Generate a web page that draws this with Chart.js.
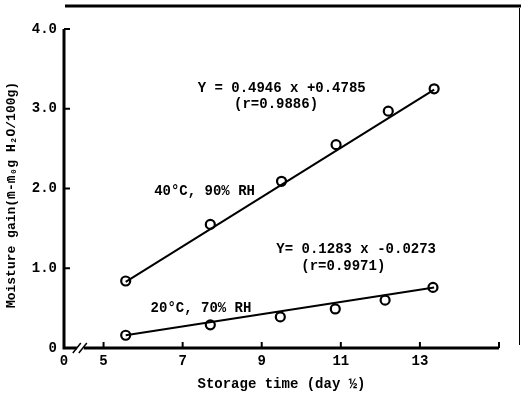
<!DOCTYPE html>
<html><head><meta charset="utf-8">
<script src="https://cdn.jsdelivr.net/npm/chart.js@4.4.0/dist/chart.umd.min.js"></script>
<style>html,body{margin:0;padding:0;background:#fff}#wrap{width:521px;height:397px}</style>
</head><body><div id="wrap"><canvas id="c" width="521" height="397"></canvas></div>
<script>
// Data
const x40 = [5.56, 7.70, 9.50, 10.88, 12.20, 13.36];
const y40 = [0.84, 1.55, 2.09, 2.55, 2.97, 3.25];
const x20 = [5.56, 7.70, 9.47, 10.86, 12.12, 13.33];
const y20 = [0.16, 0.29, 0.39, 0.49, 0.60, 0.76];
const fitX = [5.56, 13.36];
const fit40 = [0.83, 3.24];
const fit20 = [0.16, 0.76];
const xTicks = [4, 5, 7, 9, 11, 13, 15];
const xTickLabels = {4: '0', 5: '5', 7: '7', 9: '9', 11: '11', 13: '13', 15: ''};
const yTicks = [0, 1, 2, 3, 4];
const yTickLabels = {0: '0', 1: '1.0', 2: '2.0', 3: '3.0', 4: '4.0'};
const yTitle = 'Moisture gain(m̄-m̄₀g H₂O/100g)';
const notes = [
  {x: 7.38, y: 3.25, text: 'Y = 0.4946 x +0.4785'},
  {x: 8.30, y: 3.05, text: '(r=0.9886)'},
  {x: 6.28, y: 1.96, text: '40°C, 90% RH'},
  {x: 9.37, y: 1.24, text: 'Y= 0.1283 x -0.0273'},
  {x: 10.0, y: 1.02, text: '(r=0.9971)'},
  {x: 6.19, y: 0.50, text: '20°C, 70% RH'}
];
const pts = (xs, ys) => xs.map((v, i) => ({x: v, y: ys[i]}));
const FONT = '"Liberation Mono", "DejaVu Sans Mono", monospace';

const deco = {
  id: 'deco',
  afterDraw(chart) {
    const ctx = chart.ctx, xs = chart.scales.x, ys = chart.scales.y;
    const a = chart.chartArea;
    ctx.save();
    ctx.strokeStyle = '#000';
    // frame lines from the scan
    ctx.lineWidth = 3;
    ctx.beginPath(); ctx.moveTo(65, 6); ctx.lineTo(521, 6); ctx.stroke();
    ctx.lineWidth = 1;
    ctx.beginPath(); ctx.moveTo(519.5, 8); ctx.lineTo(519.5, 345); ctx.stroke();
    // axes
    ctx.lineWidth = 3;
    ctx.beginPath();
    ctx.moveTo(a.left, ys.getPixelForValue(4));
    ctx.lineTo(a.left, ys.getPixelForValue(0));
    ctx.lineTo(xs.getPixelForValue(15), ys.getPixelForValue(0));
    ctx.stroke();
    // x ticks (inside, upward)
    ctx.lineWidth = 2;
    const y0 = ys.getPixelForValue(0);
    [5, 7, 9, 11, 13, 15].forEach(v => {
      const px = xs.getPixelForValue(v);
      ctx.beginPath(); ctx.moveTo(px, y0); ctx.lineTo(px, y0 - 6); ctx.stroke();
    });
    // y ticks (inside, right)
    [1, 2, 3, 4].forEach(v => {
      const py = ys.getPixelForValue(v);
      ctx.beginPath(); ctx.moveTo(a.left, py); ctx.lineTo(a.left + 6, py); ctx.stroke();
    });
    // axis break
    const bx = xs.getPixelForValue(4.4);
    ctx.fillStyle = '#fff';
    ctx.fillRect(bx - 3, y0 - 3, 7, 6);
    ctx.lineWidth = 1.5;
    [-3, 3].forEach(d => {
      ctx.beginPath(); ctx.moveTo(bx + d - 4, y0 + 5); ctx.lineTo(bx + d + 4, y0 - 5); ctx.stroke();
    });
    // annotations
    ctx.fillStyle = '#000';
    ctx.font = 'bold 14px ' + FONT;
    ctx.textBaseline = 'middle';
    ctx.textAlign = 'left';
    notes.forEach(n => {
      ctx.fillText(n.text, xs.getPixelForValue(n.x), ys.getPixelForValue(n.y));
    });
    // y axis title
    ctx.save();
    ctx.translate(12, 195);
    ctx.rotate(-Math.PI / 2);
    ctx.textAlign = 'center';
    ctx.font = 'bold 13px ' + FONT;
    ctx.fillText(yTitle, 0, 0);
    ctx.restore();
    ctx.restore();
  }
};

new Chart(document.getElementById('c'), {
  type: 'scatter',
  data: {
    datasets: [
      {data: pts(fitX, fit40), showLine: true, borderColor: '#000', borderWidth: 2, pointRadius: 0},
      {data: pts(fitX, fit20), showLine: true, borderColor: '#000', borderWidth: 2, pointRadius: 0},
      {data: pts(x40, y40), showLine: false, pointRadius: 4.5, pointBorderWidth: 2.2, pointBorderColor: '#000', pointBackgroundColor: '#fff'},
      {data: pts(x20, y20), showLine: false, pointRadius: 4.5, pointBorderWidth: 2.2, pointBorderColor: '#000', pointBackgroundColor: '#fff'}
    ]
  },
  options: {
    responsive: false,
    animation: false,
    layout: {padding: {top: 29, right: 22, left: 0, bottom: 0}},
    plugins: {legend: {display: false}, tooltip: {enabled: false}},
    scales: {
      x: {
        type: 'linear', min: 4, max: 15,
        afterBuildTicks: s => { s.ticks = xTicks.map(v => ({value: v})); },
        afterFit: s => { s.height = 49; },
        border: {display: false},
        grid: {display: false, drawTicks: false},
        ticks: {color: '#000', font: {family: FONT, size: 14, weight: 'bold'}, padding: 5, maxRotation: 0, autoSkip: false,
          callback: v => xTickLabels[v] ?? ''},
        title: {display: true, text: 'Storage time (day ½)', color: '#000', font: {family: FONT, size: 14, weight: 'bold'}, padding: {top: 5}}
      },
      y: {
        type: 'linear', min: 0, max: 4,
        afterBuildTicks: s => { s.ticks = yTicks.map(v => ({value: v})); },
        afterFit: s => { s.width = 64; },
        border: {display: false},
        grid: {display: false, drawTicks: false},
        ticks: {color: '#000', font: {family: FONT, size: 14, weight: 'bold'}, padding: 7,
          callback: v => yTickLabels[v] ?? ''},
        title: {display: false}
      }
    }
  },
  plugins: [deco]
});
</script></body></html>
